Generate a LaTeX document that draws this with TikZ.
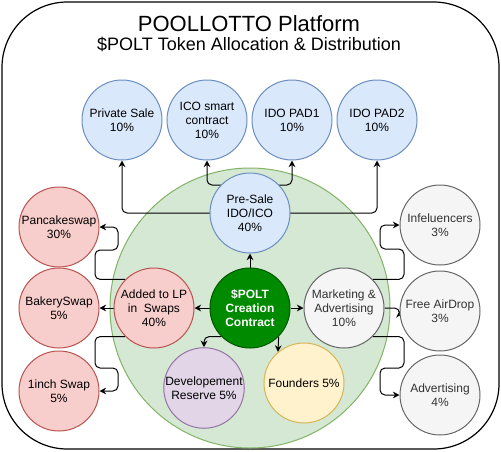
\documentclass[tikz,border=0pt]{standalone}
\usepackage{fontspec}
\setmainfont{Liberation Sans}
\usetikzlibrary{arrows.meta}

\definecolor{poolfill}{HTML}{D5E8D4}
\definecolor{poolline}{HTML}{82B366}
\definecolor{salefill}{HTML}{DAE8FC}
\definecolor{saleline}{HTML}{6C8EBF}
\definecolor{swapfill}{HTML}{F8CECC}
\definecolor{swapline}{HTML}{B85450}
\definecolor{promofill}{HTML}{F5F5F5}
\definecolor{promoline}{HTML}{666666}
\definecolor{promotext}{HTML}{333333}
\definecolor{devfill}{HTML}{E1D5E7}
\definecolor{devline}{HTML}{9673A6}
\definecolor{founderfill}{HTML}{FFF2CC}
\definecolor{founderline}{HTML}{D6B656}
\definecolor{corefill}{HTML}{008A00}
\definecolor{coreline}{HTML}{005700}

\pgfdeclarelayer{back}
\pgfdeclarelayer{edges}
\pgfsetlayers{back,edges,main}

\tikzset{
    token/.style={circle, draw, line width=0.75pt, minimum size=60pt, inner sep=0pt,
        align=center, font=\fontsize{9}{10.5}\selectfont},
    sale/.style={token, fill=salefill, draw=saleline},
    swap/.style={token, fill=swapfill, draw=swapline},
    promo/.style={token, fill=promofill, draw=promoline, text=promotext},
    reserve/.style={token, fill=devfill, draw=devline},
    founder/.style={token, fill=founderfill, draw=founderline},
    core/.style={token, fill=corefill, draw=coreline, text=white,
        font=\bfseries\fontsize{9}{10.5}\selectfont},
    conn/.style={-{Stealth[length=5pt,width=5pt]}, line width=0.75pt, rounded corners=3.75pt},
}

\begin{document}
\begin{tikzpicture}[x=0.75pt,y=-0.75pt]
    \useasboundingbox (0,0) rectangle (501,451);
    \begin{pgfonlayer}{back}
        \draw[line width=0.9pt, rounded corners=49pt] (2,2) rectangle (499,449);
        \node[circle, minimum size=210pt, fill=poolfill, draw=poolline, line width=0.75pt] (pool) at (250,308) {};
    \end{pgfonlayer}

    % title
    \node[font=\fontsize{16.5}{18}\selectfont] (title) at (249,24) {POOLLOTTO Platform};
    \node[font=\fontsize{13.5}{15}\selectfont] (subtitle) at (249,44) {\$POLT Token Allocation \& Distribution};

    % pre-sale
    \node[sale] (private) at (122,120) {Private Sale\\10\%};
    \node[sale] (icosc) at (207,120) {ICO smart\\contract\\10\%};
    \node[sale] (pad1) at (292,120) {IDO PAD1\\10\%};
    \node[sale] (pad2) at (377,120) {IDO PAD2\\10\%};
    \node[sale] (pre) at (250,213) {Pre-Sale\\IDO/ICO\\40\%};

    % centre
    \node[core] (polt) at (250,308) {\$POLT\\Creation\\Contract};
    \node[swap] (lp) at (154,308) {Added to LP\\in~~Swaps\\40\%};
    \node[promo] (mkt) at (344,308) {Marketing \&\\Advertising\\10\%};
    \node[reserve] (devel) at (204,388) {Developement\\Reserve 5\%};
    \node[founder] (founders) at (304,383) {Founders 5\%};

    % swaps
    \node[swap] (pancake) at (59,227) {Pancakeswap\\30\%};
    \node[swap] (bakery) at (59,308) {BakerySwap\\5\%};
    \node[swap] (oneinch) at (59,391) {1inch Swap\\5\%};

    % marketing
    \node[promo] (influ) at (440,225) {Infeluencers\\3\%};
    \node[promo] (airdrop) at (440,311) {Free AirDrop\\3\%};
    \node[promo] (advert) at (440,395) {Advertising\\4\%};

    \begin{pgfonlayer}{edges}
        \draw[conn] (pre.center) -| (private.south);
        \draw[conn] (pre.center) -| (pad2.south);
        \draw[conn] (pre.center) -- (250,185) -| (icosc.south);
        \draw[conn] (pre.center) -- (250,185) -| (pad1.south);

        \draw[conn] (polt) -- (pre);
        \draw[conn] (polt) -- (lp);
        \draw[conn] (polt) -- (mkt);
        \draw[conn] (polt.south west) -| (devel.north);
        \draw[conn] (polt.south east) -- (founders.130);

        \draw[conn] (lp) -- (bakery);
        \draw[conn] (lp.north west) -| (95,250) -| (118,227) -- (pancake.east);
        \draw[conn] (lp.south west) -| (95,368) -| (118,391) -- (oneinch.east);

        \draw[conn] (mkt.north east) -| (404,249) -| (380,225) -- (influ.west);
        \draw[conn] (mkt.east) -| (airdrop.west);
        \draw[conn] (mkt.south east) -| (404,368) -| (380,395) -- (advert.west);
    \end{pgfonlayer}
\end{tikzpicture}
\end{document}
